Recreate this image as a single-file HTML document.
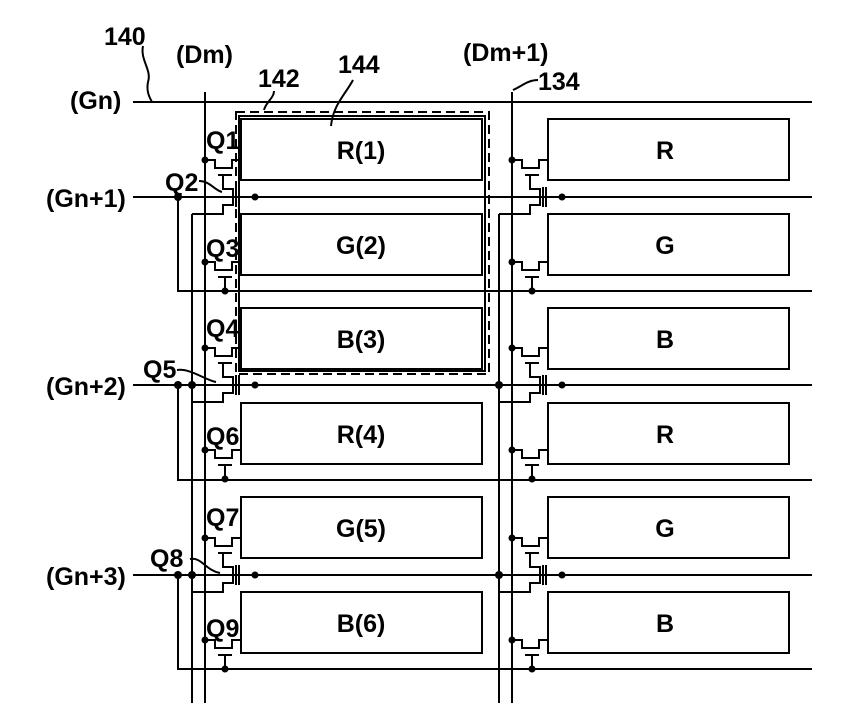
<!DOCTYPE html>
<html><head><meta charset="utf-8"><style>
html,body{margin:0;padding:0;background:#fff}
svg{display:block}
text{font-family:"Liberation Sans",sans-serif;font-size:25px;font-weight:bold;fill:#000}
</style></head><body>
<svg width="842" height="724" viewBox="0 0 842 724" xmlns="http://www.w3.org/2000/svg">
<defs>
<g id="cell" fill="none" stroke="#000" stroke-width="2">
  <path d="M0,-37 H10 V-29 H27 V-37 H36"/>
  <path d="M13,-22 H27"/>
  <path d="M18,-22 V-8 H28 V8 H18 V17 H-13"/>
  <path d="M31,-10 V10 M34,-10 V10"/>
  <path d="M0,65 H10 V73 H27 V65 H36"/>
  <path d="M13,80 H27"/>
  <path d="M20,80 V94"/>
  <circle cx="0" cy="-37" r="3.5" fill="#000" stroke="none"/>
  <circle cx="0" cy="65" r="3.5" fill="#000" stroke="none"/>
  <circle cx="50" cy="0" r="3.5" fill="#000" stroke="none"/>
  <circle cx="20" cy="94" r="3.5" fill="#000" stroke="none"/>
</g>
</defs>
<g fill="none" stroke="#000" stroke-width="2">
  <path d="M133,102 H812 M133,197 H812 M133,385 H812 M133,575 H812"/>
  <path d="M178,197 V291 H812 M178,385 V480 H812 M178,575 V669 H812"/>
  <path d="M205,92 V703 M512,92 V703 M192,214 V703 M499,214 V703"/>
  <rect x="241" y="119" width="241" height="61"/>
  <rect x="241" y="214" width="241" height="61"/>
  <rect x="241" y="308" width="241" height="61"/>
  <rect x="241" y="403" width="241" height="61"/>
  <rect x="241" y="497" width="241" height="61"/>
  <rect x="241" y="592" width="241" height="61"/>
  <rect x="548" y="119" width="241" height="61"/>
  <rect x="548" y="214" width="241" height="61"/>
  <rect x="548" y="308" width="241" height="61"/>
  <rect x="548" y="403" width="241" height="61"/>
  <rect x="548" y="497" width="241" height="61"/>
  <rect x="548" y="592" width="241" height="61"/>
  <rect x="239" y="116" width="246" height="255"/>
  <rect x="236" y="112" width="253" height="262" stroke-dasharray="9,5"/>
  <path d="M143,46 C140,60 152,70 148,82 C146,92 150,98 152,102"/>
  <path d="M274,91 C274,98 266,102 264,110"/>
  <path d="M353,80 C345,95 333,105 331,126"/>
  <path d="M538,80 C528,80 522,86 513,90"/>
  <path d="M199,181 C210,181 214,190 222,192"/>
  <path d="M177,370 C190,368 205,380 216,382"/>
  <path d="M190,559 C202,557 205,570 220,573"/>
</g>
<use href="#cell" transform="translate(205,197)"/>
<use href="#cell" transform="translate(512,197)"/>
<use href="#cell" transform="translate(205,385)"/>
<use href="#cell" transform="translate(512,385)"/>
<use href="#cell" transform="translate(205,575)"/>
<use href="#cell" transform="translate(512,575)"/>
<g fill="#000">
  <circle cx="178" cy="197" r="4"/>
  <circle cx="178" cy="385" r="4"/><circle cx="192" cy="385" r="4"/><circle cx="499" cy="385" r="4"/>
  <circle cx="178" cy="575" r="4"/><circle cx="192" cy="575" r="4"/><circle cx="499" cy="575" r="4"/>
</g>
<text x="104" y="45">140</text>
<text x="176" y="63">(Dm)</text>
<text x="258" y="87">142</text>
<text x="338" y="73">144</text>
<text x="463" y="61">(Dm+1)</text>
<text x="538" y="90">134</text>
<text x="70" y="109">(Gn)</text>
<text x="46" y="207">(Gn+1)</text>
<text x="46" y="395">(Gn+2)</text>
<text x="46" y="585">(Gn+3)</text>
<text x="206" y="149">Q1</text>
<text x="165" y="191">Q2</text>
<text x="206" y="257">Q3</text>
<text x="206" y="337">Q4</text>
<text x="143" y="378">Q5</text>
<text x="206" y="445">Q6</text>
<text x="206" y="526">Q7</text>
<text x="150" y="567">Q8</text>
<text x="206" y="637">Q9</text>
<g text-anchor="middle">
<text x="361" y="159">R(1)</text>
<text x="361" y="254">G(2)</text>
<text x="361" y="348">B(3)</text>
<text x="361" y="443">R(4)</text>
<text x="361" y="537">G(5)</text>
<text x="361" y="632">B(6)</text>
<text x="665" y="159">R</text>
<text x="665" y="254">G</text>
<text x="665" y="348">B</text>
<text x="665" y="443">R</text>
<text x="665" y="537">G</text>
<text x="665" y="632">B</text>
</g>
</svg>
</body></html>
